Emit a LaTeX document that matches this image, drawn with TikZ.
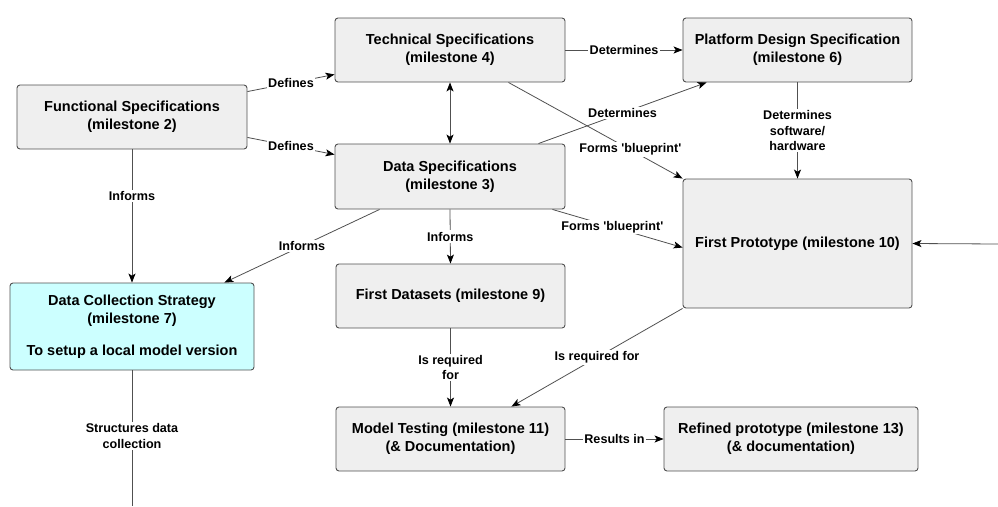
\documentclass[tikz,border=0pt]{standalone}
\usepackage{fontspec}
\setmainfont{Liberation Sans}
\usetikzlibrary{arrows.meta}
\definecolor{boxfill}{HTML}{EFEFEF}
\definecolor{boxline}{HTML}{505050}
\definecolor{cyanfill}{HTML}{CCFFFF}
\definecolor{wire}{HTML}{505050}
\newcommand{\sq}{\textquotesingle}
\tikzset{
  box/.style={draw=boxline, line width=0.9pt, fill=boxfill, rounded corners=3pt,
    align=center, inner sep=0pt, font=\fontsize{14.5}{18}\selectfont\bfseries},
  conn/.style={draw=wire, line width=0.8pt},
  tip/.tip={Stealth[length=9pt,width=7pt,inset=2.2pt,color=black]},
  lbl/.style={fill=white, inner sep=1.5pt, align=center,
    font=\fontsize{12.6}{15.5}\selectfont\bfseries}
}
\begin{document}
\begin{tikzpicture}[x=1pt,y=-1pt]
\useasboundingbox (0,0) rectangle (998,506);

% milestone boxes
\node[box, minimum width=230, minimum height=64] (func) at (132,117)
  {Functional Specifications\\(milestone 2)};
\node[box, minimum width=230, minimum height=64] (tech) at (450,50)
  {Technical Specifications\\(milestone 4)};
\node[box, minimum width=230, minimum height=65] (data) at (450,176.5)
  {Data Specifications\\(milestone 3)};
\node[box, minimum width=229, minimum height=64] (plat) at (797.5,50)
  {Platform Design Specification\\(milestone 6)};
\node[box, minimum width=229, minimum height=129] (proto) at (797.5,243.5)
  {First Prototype (milestone 10)};
\node[box, fill=cyanfill, minimum width=244, minimum height=87] (dcs) at (132,326.5)
  {Data Collection Strategy\\(milestone 7)\\[14pt]To setup a local model version};
\node[box, minimum width=229, minimum height=64] (fds) at (450.5,296)
  {First Datasets (milestone 9)};
\node[box, minimum width=229, minimum height=64] (mt) at (450.5,439)
  {Model Testing (milestone 11)\\(\& Documentation)};
\node[box, minimum width=254, minimum height=64] (ref) at (791,439)
  {Refined prototype (milestone 13)\\(\& documentation)};

% loose ends at the picture edges
\coordinate (ext) at (998,244);
\coordinate (dcsout) at (132,506);

% connectors
\draw[conn, -tip] ([yshift=-7pt]func.north east) -- ([yshift=8pt]tech.south west)
  node[lbl, midway] {Defines};
\draw[conn, -tip] ([yshift=12pt]func.south east) -- ([yshift=-11pt]data.north west)
  node[lbl, midway] {Defines};
\draw[conn, -tip] (func.south) -- (dcs.north)
  node[lbl, pos=0.35] {Informs};
\draw[conn, -tip] ([xshift=45pt]data.south west) -- ([xshift=-30pt]dcs.north east)
  node[lbl, midway] {Informs};
\draw[conn, tip-tip] (tech.south) -- (data.north);
\draw[conn, -tip] (tech.east) -- (plat.west)
  node[lbl, midway] {Determines};
\draw[conn, -tip] ([xshift=-57pt]tech.south east) -- (proto.north west)
  node[lbl, pos=0.7] {Forms \sq blueprint\sq};
\draw[conn, -tip] ([xshift=-27pt]data.north east) -- ([xshift=24pt]plat.south west)
  node[lbl, midway] {Determines};
\draw[conn, -tip] ([xshift=-13pt]data.south east) -- ([yshift=-4pt]proto.west)
  node[lbl, pos=0.46] {Forms \sq blueprint\sq};
\draw[conn, -tip] (plat.south) -- (proto.north)
  node[lbl, midway] {Determines\\software/\\hardware};
\draw[conn, -tip] (ext) -- (proto.east);
\draw[conn, -tip] (data.south) -- (fds.north)
  node[lbl, midway] {Informs};
\draw[conn, -tip] (fds.south) -- (mt.north)
  node[lbl, midway] {Is required\\for};
\draw[conn, -tip] (proto.south west) -- ([xshift=-54pt]mt.north east)
  node[lbl, midway] {Is required for};
\draw[conn, -tip] (mt.east) -- (ref.west)
  node[lbl, midway] {Results in};
\draw[conn] (dcs.south) -- (dcsout)
  node[lbl, pos=0.485] {Structures data\\collection};
\end{tikzpicture}
\end{document}
